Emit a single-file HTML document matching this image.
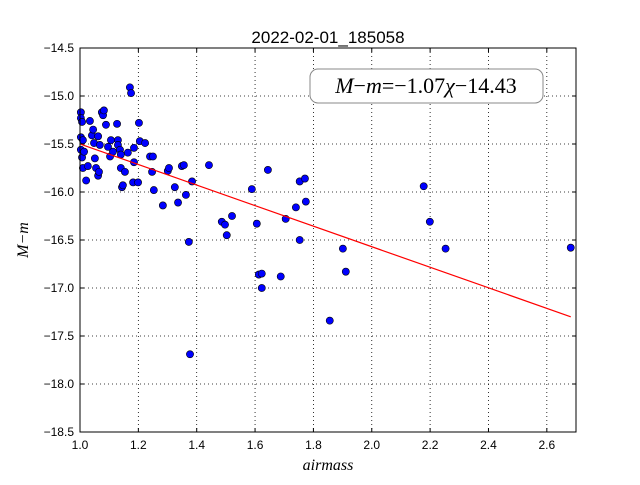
<!DOCTYPE html>
<html><head><meta charset="utf-8"><style>
body{margin:0;background:#fff;}
svg text{font-family:"Liberation Sans",sans-serif;}
svg text.serif{font-family:"Liberation Serif",serif;}
</style></head><body>
<svg id="chart" width="640" height="480" viewBox="0 0 640 480" xmlns="http://www.w3.org/2000/svg">
<rect width="640" height="480" fill="#fff"/>
<g id="grid"></g>
<g id="ticks"></g>
<g id="marks"></g>
<rect x="80" y="48" width="496" height="384" fill="none" stroke="#000" stroke-width="1"/>
<text x="328" y="43" font-size="17" text-anchor="middle">2022-02-01_185058</text>
<g>
<rect x="310" y="69" width="233" height="34" rx="8" fill="#fff" stroke="#888" stroke-width="1"/>
<text class="serif" x="426" y="93" font-size="22" text-anchor="middle"><tspan font-style="italic">M</tspan>−<tspan font-style="italic">m</tspan>=−1.07<tspan font-style="italic">χ</tspan>−14.43</text>
</g>
<text class="serif" x="328" y="470" font-size="16" text-anchor="middle" font-style="italic">airmass</text>
<text class="serif" transform="translate(28,240) rotate(-90)" font-size="16" text-anchor="middle" font-style="italic">M−m</text>
</svg>
<script>
const airmass=[1.003,1.003,1.007,1.003,1.010,1.003,1.007,1.014,1.010,1.021,1.027,1.034,1.041,1.045,1.048,1.051,1.055,1.062,1.062,1.065,1.068,1.075,1.079,1.082,1.089,1.096,1.103,1.106,1.113,1.127,1.130,1.130,1.137,1.140,1.140,1.144,1.147,1.154,1.164,1.171,1.175,1.182,1.185,1.185,1.199,1.202,1.205,1.223,1.240,1.250,1.247,1.253,1.284,1.301,1.305,1.325,1.336,1.349,1.356,1.363,1.373,1.384,1.377,1.442,1.486,1.497,1.503,1.521,1.589,1.606,1.613,1.623,1.623,1.644,1.688,1.705,1.740,1.753,1.753,1.771,1.774,1.856,1.901,1.911,2.178,2.199,2.253,2.682];
const magDiff=[-15.17,-15.23,-15.27,-15.43,-15.46,-15.56,-15.64,-15.58,-15.75,-15.88,-15.73,-15.26,-15.41,-15.35,-15.49,-15.65,-15.75,-15.42,-15.83,-15.79,-15.51,-15.17,-15.20,-15.15,-15.30,-15.53,-15.63,-15.46,-15.58,-15.29,-15.46,-15.51,-15.56,-15.61,-15.75,-15.95,-15.93,-15.79,-15.59,-14.91,-14.97,-15.90,-15.69,-15.54,-15.90,-15.28,-15.47,-15.49,-15.63,-15.63,-15.79,-15.98,-16.14,-15.78,-15.75,-15.95,-16.11,-15.73,-15.72,-16.03,-16.52,-15.89,-17.69,-15.72,-16.31,-16.34,-16.45,-16.25,-15.97,-16.33,-16.86,-16.85,-17.00,-15.77,-16.88,-16.28,-16.16,-15.89,-16.50,-15.86,-16.10,-17.34,-16.59,-16.83,-15.94,-16.31,-16.59,-16.58];
const slope=-1.07, intercept=-14.43;
const xTicks=["1.0","1.2","1.4","1.6","1.8","2.0","2.2","2.4","2.6"];
const yTicks=["-14.5","-15.0","-15.5","-16.0","-16.5","-17.0","-17.5","-18.0","-18.5"];
const X0=80,X1=576,Y0=48,Y1=432,xMin=1.0,xMax=2.7,yMax=-14.5,yMin=-18.5;
const sx=v=>X0+(v-xMin)/(xMax-xMin)*(X1-X0);
const sy=v=>Y0+(yMax-v)/(yMax-yMin)*(Y1-Y0);
const NS="http://www.w3.org/2000/svg";
const mk=(t,a,p)=>{const e=document.createElementNS(NS,t);for(const k in a)e.setAttribute(k,a[k]);p.appendChild(e);return e;};
const grid=document.getElementById('grid'),ticks=document.getElementById('ticks'),marks=document.getElementById('marks');
xTicks.forEach(t=>{const x=sx(parseFloat(t));
 const g=mk('line',{x1:x,x2:x,y1:Y0,y2:Y1,stroke:'#000','stroke-dasharray':'1,3','stroke-width':0.8},grid);
 
 
 mk('line',{x1:x,x2:x,y1:Y1,y2:Y1-4,stroke:'#000'},ticks);
 mk('line',{x1:x,x2:x,y1:Y0,y2:Y0+4,stroke:'#000'},ticks);
 const l=mk('text',{x:x,y:Y1+17,'font-size':12,'text-anchor':'middle'},ticks);l.textContent=t;
 
 
});
yTicks.forEach(t=>{const y=sy(parseFloat(t));
 const g=mk('line',{x1:X0,x2:X1,y1:y,y2:y,stroke:'#000','stroke-dasharray':'1,3','stroke-width':0.8},grid);
 
 
 mk('line',{x1:X0,x2:X0+4,y1:y,y2:y,stroke:'#000'},ticks);
 mk('line',{x1:X1,x2:X1-4,y1:y,y2:y,stroke:'#000'},ticks);
 const l=mk('text',{x:X0-6,y:y+4,'font-size':12,'text-anchor':'end'},ticks);l.textContent=t.replace('-','−');
 
 
});
airmass.forEach((a,i)=>{
 const c=mk('circle',{cx:sx(a),cy:sy(magDiff[i]),r:3.6,fill:'#0000ff',stroke:'#000','stroke-width':0.6},marks);
 
 
});
const xa=Math.min(...airmass),xb=Math.max(...airmass);
const fl=mk('line',{x1:sx(xa),y1:sy(slope*xa+intercept),x2:sx(xb),y2:sy(slope*xb+intercept),stroke:'#ff0000','stroke-width':1.2},marks);


</script>
</body></html>
